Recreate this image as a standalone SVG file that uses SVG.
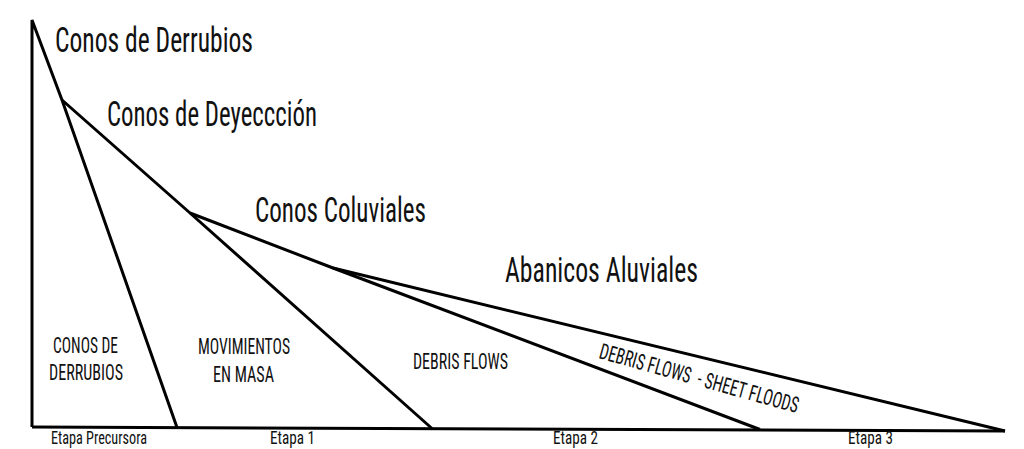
<svg xmlns="http://www.w3.org/2000/svg" width="1024" height="449" viewBox="0 0 1024 449">
<style>
.ln{fill:none;stroke:#000;stroke-width:3;stroke-linejoin:miter;stroke-linecap:butt}
.t{font-family:"Liberation Sans Narrow","Roboto Condensed","DejaVu Sans Condensed",Roboto,sans-serif;fill:#111;}
.big{font-size:35px}
.mid{font-size:22px}
.sm{font-size:18px}
</style>
<rect width="1024" height="449" fill="#fff"/>
<g id="connectors">
<path class="ln" d="M32,427 L32,20 L62,100 L177,427.5"/>
<path class="ln" d="M32,427 L1005,431"/>
<path class="ln" d="M62,100 L190,213 L432,428.5"/>
<path class="ln" d="M190,213 L333,268 L760,429.5"/>
<path class="ln" d="M333,268 L1005,431"/>
</g>
<g id="titles">
<text class="t big" x="55" y="52" textLength="198" lengthAdjust="spacingAndGlyphs">Conos de Derrubios</text>
<text class="t big" x="107" y="126" textLength="210" lengthAdjust="spacingAndGlyphs">Conos de Deyeccción</text>
<text class="t big" x="255" y="222" textLength="171" lengthAdjust="spacingAndGlyphs">Conos Coluviales</text>
<text class="t big" x="505" y="282" textLength="193" lengthAdjust="spacingAndGlyphs">Abanicos Aluviales</text>
</g>
<g id="zone-derrubios">
<text class="t mid" x="53" y="353" textLength="65" lengthAdjust="spacingAndGlyphs">CONOS DE</text>
<text class="t mid" x="49" y="380" textLength="74" lengthAdjust="spacingAndGlyphs">DERRUBIOS</text>
</g>
<g id="zone-movimientos">
<text class="t mid" x="198" y="354" textLength="92" lengthAdjust="spacingAndGlyphs">MOVIMIENTOS</text>
<text class="t mid" x="213" y="382" textLength="61" lengthAdjust="spacingAndGlyphs">EN MASA</text>
</g>
<g id="zone-debris">
<text class="t mid" x="413" y="369" textLength="95" lengthAdjust="spacingAndGlyphs">DEBRIS FLOWS</text>
</g>
<g id="zone-sheet">
<text class="t mid" transform="translate(598,358) rotate(15.5)" x="0" y="0" textLength="206" lengthAdjust="spacingAndGlyphs">DEBRIS FLOWS&#160; - SHEET FLOODS</text>
</g>
<g id="stages">
<text class="t sm" x="51" y="444" textLength="96" lengthAdjust="spacingAndGlyphs">Etapa Precursora</text>
<text class="t sm" x="270" y="444" textLength="45" lengthAdjust="spacingAndGlyphs">Etapa 1</text>
<text class="t sm" x="553" y="444" textLength="45" lengthAdjust="spacingAndGlyphs">Etapa 2</text>
<text class="t sm" x="848" y="444" textLength="45" lengthAdjust="spacingAndGlyphs">Etapa 3</text>
</g>
</svg>
